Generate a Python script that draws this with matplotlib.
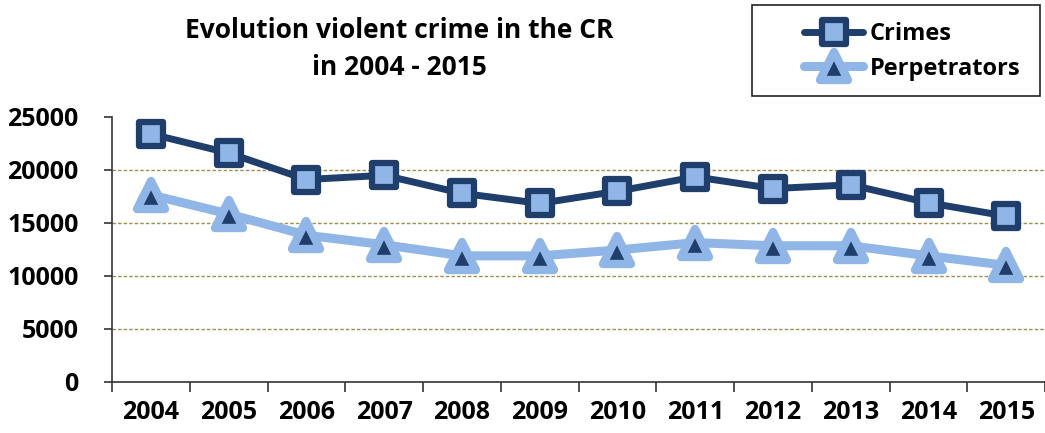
import matplotlib.pyplot as plt
from matplotlib.markers import MarkerStyle
from matplotlib.patches import Rectangle

years = ['2004', '2005', '2006', '2007', '2008', '2009',
         '2010', '2011', '2012', '2013', '2014', '2015']
crimes = [23400, 21600, 19100, 19500, 17800, 16850,
          18000, 19350, 18250, 18600, 16900, 15650]
perpetrators = [17650, 15850, 13850, 12950, 11900, 11900,
                12450, 13150, 12850, 12850, 11900, 11000]
y_ticks = [0, 5000, 10000, 15000, 20000, 25000]

NAVY = '#1f3e6b'
LIGHT = '#8fb6e6'
FONT = 'Open Sans'
W, H = 1045, 433

fig = plt.figure(figsize=(W / 100, H / 100), dpi=100)
ax = fig.add_axes([0.1072, 0.1178, 0.893, 0.612])

x = list(range(len(years)))

sq = MarkerStyle('s', joinstyle='round')
tri = MarkerStyle('^', joinstyle='round')

ln_c, = ax.plot(x, crimes, color=NAVY, lw=5, marker=sq, ms=17,
                mfc=LIGHT, mec=NAVY, mew=4.5, solid_capstyle='round',
                solid_joinstyle='round', zorder=4, label='Crimes')
ln_p, = ax.plot(x, perpetrators, color=LIGHT, lw=6.5, marker=tri, ms=20,
                mfc=NAVY, mec=LIGHT, mew=6, solid_capstyle='round',
                solid_joinstyle='round', zorder=3, label='Perpetrators')

ax.set_xlim(-0.5, len(years) - 0.5)
ax.set_ylim(0, 25000)
ax.set_yticks(y_ticks)
ax.set_yticklabels([str(v) for v in y_ticks])
ax.set_xticks(x)
ax.set_xticklabels(years)
ax.set_xticks([i - 0.5 for i in range(len(years) + 1)], minor=True)

for v in y_ticks[1:-1]:
    ax.axhline(v, color='#a08e50', lw=1, ls=(0, (2.5, 1.5)), zorder=1)

for s in ['top', 'right']:
    ax.spines[s].set_visible(False)
for s in ['left', 'bottom']:
    ax.spines[s].set_color('#333333')
    ax.spines[s].set_linewidth(1.2)

ax.tick_params(axis='x', which='major', length=0, pad=13)
ax.tick_params(axis='x', which='minor', length=7, width=1.2, color='#333333')
ax.tick_params(axis='y', length=6, width=1.2, color='#333333', pad=18)
for lab in ax.get_xticklabels() + ax.get_yticklabels():
    lab.set_fontfamily(FONT)
    lab.set_fontweight('bold')
    lab.set_fontsize(18)

fig.text(0.382, 0.96, 'Evolution violent crime in the CR\nin 2004 - 2015',
         ha='center', va='top', fontsize=19, fontweight='bold',
         family=FONT, linespacing=1.45)

# legend box drawn as a separate frame
fig.patches.append(Rectangle((752 / W, 1 - 96 / H), 288 / W, 91 / H,
                             transform=fig.transFigure, fill=False,
                             edgecolor='#222222', lw=1.2))
leg = fig.legend(handles=[ln_c, ln_p], loc='upper left',
                 bbox_to_anchor=(804 / W, 1 - 22 / H), frameon=False,
                 handlelength=2.5, handletextpad=0.3, borderpad=0,
                 labelspacing=0.45, borderaxespad=0,
                 prop={'family': FONT, 'weight': 'bold', 'size': 17})

fig.savefig('out.png', dpi=100)
